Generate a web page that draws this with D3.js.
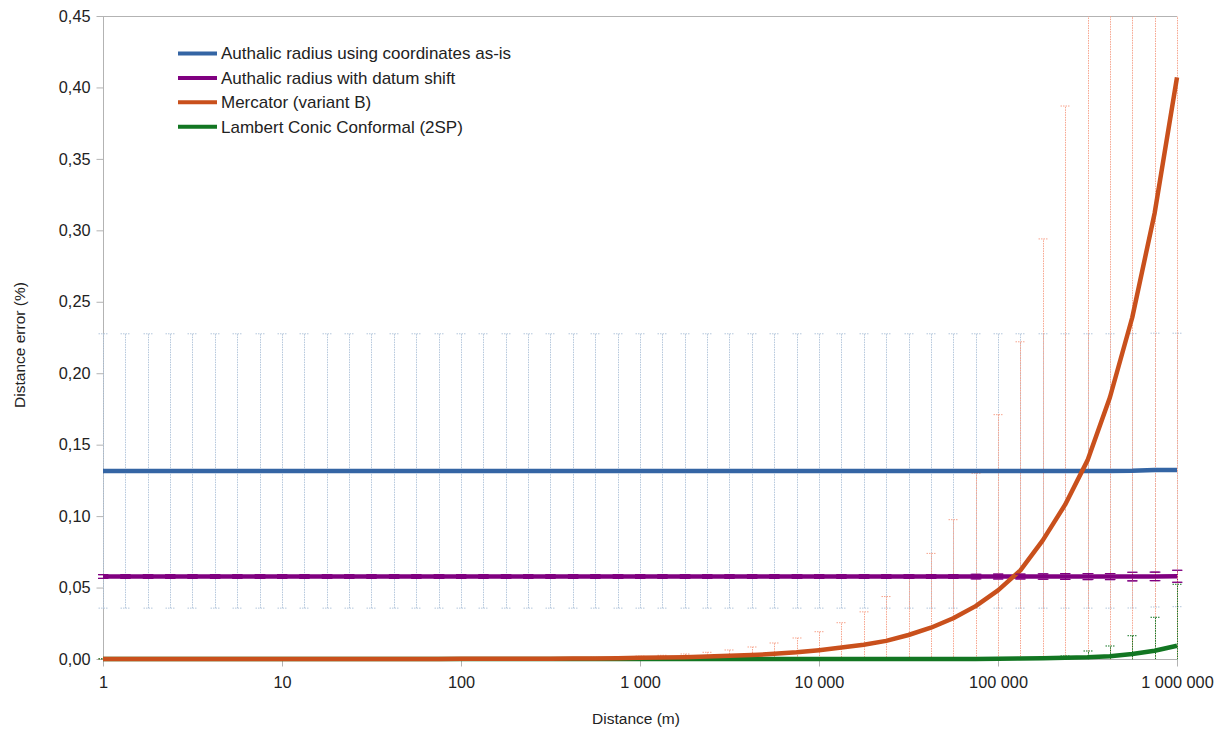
<!DOCTYPE html>
<html>
<head>
<meta charset="utf-8">
<script src="https://cdn.jsdelivr.net/npm/d3@7"></script>
<style>
  body { margin: 0; background: #fff; }
  svg { font-family: "Liberation Sans", Arial, sans-serif; }
  .axis path, .axis line { stroke: #b3b3b3; }
  .axis text { fill: #222; font-size: 16.3px; }
  .title { fill: #222; font-size: 15.5px; }
  .legend text { fill: #222; font-size: 17px; }
</style>
</head>
<body>
<svg width="1228" height="729"></svg>
<script>
// sample distances (m), 8 per decade
var distances = [1, 1.334, 1.778, 2.371, 3.162, 4.217, 5.623, 7.499,
  10, 13.34, 17.78, 23.71, 31.62, 42.17, 56.23, 74.99,
  100, 133.4, 177.8, 237.1, 316.2, 421.7, 562.3, 749.9,
  1000, 1334, 1778, 2371, 3162, 4217, 5623, 7499,
  10000, 13335, 17783, 23714, 31623, 42170, 56234, 74989,
  100000, 133352, 177828, 237137, 316228, 421697, 562341, 749894,
  1000000];

var seriesNames = ["Authalic radius using coordinates as-is", "Authalic radius with datum shift",
  "Mercator (variant B)", "Lambert Conic Conformal (2SP)"];
var seriesColors = ["#3465a4", "#800080", "#c9501c", "#127622"];
var errColors = ["#b4c7dc", "#800080", "#f7a58e", "#127622"];

var asIsValues = [0.1316, 0.1316, 0.1316, 0.1316, 0.1316, 0.1316, 0.1316, 0.1316,
  0.1316, 0.1316, 0.1316, 0.1316, 0.1316, 0.1316, 0.1316, 0.1316,
  0.1316, 0.1316, 0.1316, 0.1316, 0.1316, 0.1316, 0.1316, 0.1316,
  0.1316, 0.1316, 0.1316, 0.1316, 0.1316, 0.1316, 0.1316, 0.1316,
  0.1316, 0.1316, 0.1316, 0.1316, 0.1316, 0.1316, 0.1316, 0.1316,
  0.1316, 0.1316, 0.1316, 0.1316, 0.1316, 0.1316, 0.1317, 0.1322,
  0.1323];
var asIsErr = [0.096, 0.096, 0.096, 0.096, 0.096, 0.096, 0.096, 0.096,
  0.096, 0.096, 0.096, 0.096, 0.096, 0.096, 0.096, 0.096,
  0.096, 0.096, 0.096, 0.096, 0.096, 0.096, 0.096, 0.096,
  0.096, 0.096, 0.096, 0.096, 0.096, 0.096, 0.096, 0.096,
  0.096, 0.096, 0.096, 0.096, 0.096, 0.096, 0.096, 0.096,
  0.096, 0.096, 0.096, 0.096, 0.096, 0.096, 0.096, 0.0958,
  0.0957];

var shiftValues = [0.0577, 0.0577, 0.0577, 0.0577, 0.0577, 0.0577, 0.0577, 0.0577,
  0.0577, 0.0577, 0.0577, 0.0577, 0.0577, 0.0577, 0.0577, 0.0577,
  0.0577, 0.0577, 0.0577, 0.0577, 0.0577, 0.0577, 0.0577, 0.0577,
  0.0577, 0.0577, 0.0577, 0.0577, 0.0577, 0.0577, 0.0577, 0.0577,
  0.0577, 0.0577, 0.0577, 0.0577, 0.0577, 0.0577, 0.0577, 0.0577,
  0.0577, 0.0577, 0.0577, 0.0577, 0.0577, 0.0577, 0.0577, 0.0578,
  0.0579];
var shiftErr = [0.0013, 0.0013, 0.0013, 0.0013, 0.0013, 0.0013, 0.0013, 0.0013,
  0.0013, 0.0013, 0.0013, 0.0013, 0.0013, 0.0013, 0.0013, 0.0013,
  0.0013, 0.0013, 0.0013, 0.0013, 0.0013, 0.0013, 0.0013, 0.0013,
  0.0013, 0.0013, 0.0013, 0.0013, 0.0013, 0.0013, 0.0013, 0.0013,
  0.0013, 0.0013, 0.0013, 0.0013, 0.0013, 0.0013, 0.0013, 0.0016,
  0.0017, 0.0017, 0.0019, 0.0020, 0.0021, 0.0021, 0.0030, 0.0030,
  0.0042];

var mercValues = [0, 0, 0, 0, 0, 0, 0, 0,
  0, 0, 0, 0, 0, 0, 0, 0,
  0.0001, 0.0001, 0.0001, 0.0002, 0.0002, 0.0003, 0.0004, 0.0006,
  0.0008, 0.0010, 0.0013, 0.0017, 0.0022, 0.0028, 0.0036, 0.0047,
  0.0062, 0.0080, 0.0100, 0.0127, 0.0168, 0.0219, 0.0285, 0.037,
  0.048, 0.062, 0.083, 0.108, 0.139, 0.183, 0.239, 0.312,
  0.407];
var mercErr = [0.0001, 0.0001, 0.0001, 0.0001, 0.0001, 0.0001, 0.0001, 0.0001,
  0.0001, 0.0001, 0.0001, 0.0001, 0.0001, 0.0001, 0.0001, 0.0001,
  0.0002, 0.0002, 0.0003, 0.0004, 0.0005, 0.0006, 0.0008, 0.0010,
  0.0012, 0.0016, 0.0022, 0.0030, 0.0041, 0.0056, 0.0076, 0.0100,
  0.0129, 0.0174, 0.023, 0.031, 0.040, 0.052, 0.069, 0.093,
  0.123, 0.160, 0.211, 0.279, 0.37, 0.49, 0.65, 0.86,
  1.14];

var lccValues = [0, 0, 0, 0, 0, 0, 0, 0,
  0, 0, 0, 0, 0, 0, 0, 0,
  0, 0, 0, 0, 0, 0, 0, 0,
  0, 0, 0, 0, 0, 0, 0, 0,
  0, 0, 0, 0, 0, 0, 0, 0,
  0.0002, 0.0003, 0.0005, 0.0008, 0.0012, 0.0020, 0.0035, 0.0058,
  0.0093];
var lccErr = [0.0001, 0.0001, 0.0001, 0.0001, 0.0001, 0.0001, 0.0001, 0.0001,
  0.0001, 0.0001, 0.0001, 0.0001, 0.0001, 0.0001, 0.0001, 0.0001,
  0.0001, 0.0001, 0.0001, 0.0001, 0.0001, 0.0001, 0.0001, 0.0001,
  0.0001, 0.0001, 0.0001, 0.0001, 0.0001, 0.0001, 0.0001, 0.0001,
  0.0001, 0.0001, 0.0001, 0.0001, 0.0001, 0.0001, 0.0001, 0.0001,
  0.0003, 0.0005, 0.0009, 0.0013, 0.0044, 0.0071, 0.0128, 0.0234,
  0.043];

var xTicks = [1, 10, 100, 1000, 10000, 100000, 1000000];
var yTicks = [0, 0.05, 0.1, 0.15, 0.2, 0.25, 0.3, 0.35, 0.4, 0.45];

var svg = d3.select("svg");
var plotLeft = 103, plotRight = 1177, plotTop = 16, plotBottom = 659;

var x = d3.scaleLog().domain([1, 1000000]).range([plotLeft, plotRight]);
var y = d3.scaleLinear().domain([0, 0.45]).range([plotBottom, plotTop]);

var locale = d3.formatLocale({decimal: ",", thousands: " ", grouping: [3], currency: ["", ""]});

var series = [
  {name: seriesNames[0], values: asIsValues, err: asIsErr, color: seriesColors[0], errColor: errColors[0], dotted: true},
  {name: seriesNames[1], values: shiftValues, err: shiftErr, color: seriesColors[1], errColor: errColors[1], dotted: false},
  {name: seriesNames[2], values: mercValues, err: mercErr, color: seriesColors[2], errColor: errColors[2], dotted: true},
  {name: seriesNames[3], values: lccValues, err: lccErr, color: seriesColors[3], errColor: errColors[3], dotted: true}
];
series.forEach(function(s) {
  s.points = distances.map(function(d, i) { return {d: d, v: s.values[i], e: s.err[i]}; });
});

svg.append("defs").append("clipPath").attr("id", "clip")
  .append("rect").attr("x", 0).attr("y", plotTop).attr("width", 1228).attr("height", plotBottom - plotTop + 0.5);

// axes
svg.append("line")
  .attr("x1", plotLeft).attr("x2", plotRight).attr("y1", plotTop + 0.5).attr("y2", plotTop + 0.5)
  .attr("stroke", "#b3b3b3");

svg.append("g")
  .attr("class", "axis")
  .attr("transform", "translate(" + (plotLeft + 0.5) + ",0)")
  .call(d3.axisLeft(y).tickValues(yTicks).tickSize(7).tickPadding(6).tickFormat(locale.format(".2f")))
  .call(function(g) { g.select(".domain").attr("d", "M0," + plotTop + "V" + plotBottom); });

svg.append("g")
  .attr("class", "axis")
  .attr("transform", "translate(0," + (plotBottom + 0.5) + ")")
  .call(d3.axisBottom(x).tickValues(xTicks).tickSize(7).tickPadding(10).tickFormat(locale.format(",d")))
  .call(function(g) { g.select(".domain").attr("d", "M" + plotLeft + ",0H" + plotRight); });

svg.append("text")
  .attr("class", "title")
  .attr("x", 636).attr("y", 724)
  .attr("text-anchor", "middle")
  .text("Distance (m)");

svg.append("text")
  .attr("class", "title")
  .attr("transform", "translate(25,345) rotate(-90)")
  .attr("text-anchor", "middle")
  .text("Distance error (%)");

// error bars
var bars = svg.append("g").attr("clip-path", "url(#clip)");
series.forEach(function(s) {
  var g = bars.append("g")
    .attr("stroke", s.errColor)
    .attr("stroke-width", 1)
    .attr("stroke-dasharray", s.dotted ? "1.5,1" : null)
    .attr("fill", "none");
  g.selectAll("path")
    .data(s.points)
    .enter().append("path")
    .attr("d", function(p) {
      var cx = Math.round(x(p.d)) + 0.5,
          y1 = y(p.v + p.e), y0 = y(p.v - p.e);
      return "M" + cx + "," + y0 + "V" + y1 +
        "M" + (cx - 5) + "," + y1 + "H" + (cx + 5) +
        "M" + (cx - 5) + "," + y0 + "H" + (cx + 5);
    });
});

// lines (Mercator drawn last, it sits on top)
var line = d3.line()
  .x(function(p) { return x(p.d); })
  .y(function(p) { return y(p.v); });

[0, 1, 3, 2].forEach(function(i) {
  svg.append("path")
    .datum(series[i].points)
    .attr("fill", "none")
    .attr("stroke", series[i].color)
    .attr("stroke-width", 4.5)
    .attr("stroke-linejoin", "round")
    .attr("d", line);
});

// purple caps are solid and show around the line
svg.append("g")
  .attr("clip-path", "url(#clip)")
  .attr("stroke", errColors[1])
  .attr("stroke-width", 1.2)
  .selectAll("path")
  .data(series[1].points)
  .enter().append("path")
  .attr("d", function(p) {
    var cx = x(p.d), y1 = y(p.v + p.e), y0 = y(p.v - p.e);
    return "M" + (cx - 5) + "," + y1 + "H" + (cx + 5) + "M" + (cx - 5) + "," + y0 + "H" + (cx + 5);
  });

// legend
var legend = svg.append("g").attr("class", "legend");
var rows = legend.selectAll("g")
  .data(series)
  .enter().append("g")
  .attr("transform", function(d, i) { return "translate(178," + (53.5 + i * 24.4) + ")"; });
rows.append("line")
  .attr("x1", 0).attr("x2", 39)
  .attr("stroke", function(d) { return d.color; })
  .attr("stroke-width", 4);
rows.append("text")
  .attr("x", 43)
  .attr("dy", "0.35em")
  .text(function(d) { return d.name; });
</script>
</body>
</html>
